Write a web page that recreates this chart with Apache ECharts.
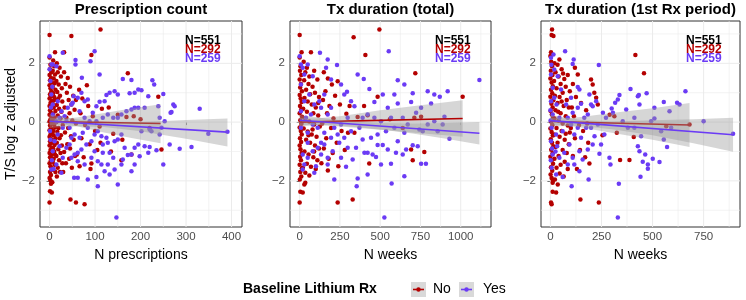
<!DOCTYPE html>
<html><head><meta charset="utf-8">
<script src="https://cdn.jsdelivr.net/npm/echarts@6/dist/echarts.min.js"></script>
<style>html,body{margin:0;padding:0;background:#fff}#c{width:746px;height:300px}</style>
</head><body><div id="c"></div>
<script>
// ---------- text ----------
const panelTitles = ['Prescription count', 'Tx duration (total)', 'Tx duration (1st Rx period)'];
const xTitles = ['N prescriptions', 'N weeks', 'N weeks'];
const yTitle = 'T/S log z adjusted';
const legendTitle = 'Baseline Lithium Rx';
const groupNames = ['No', 'Yes'];
const nLabels = ['N=551', 'N=292', 'N=259'];

// ---------- ticks ----------
const yMajor = [-2, 0, 2];
const yMinor = [-3, -1, 1, 3];
const p1XMajor = [0, 100, 200, 300, 400];
const p1XMinor = [50, 150, 250, 350];
const p2XMajor = [0, 250, 500, 750, 1000];
const p2XMinor = [125, 375, 625, 875, 1125];
const p3XMajor = [0, 250, 500, 750];
const p3XMinor = [125, 375, 625, 875];

// ---------- panel 1: N prescriptions ----------
const p1Red = [[0,2.96],[48,2.93],[112,3.15],[32,2.38],[12,2.38],[92,2.28],[172,1.66],[239,0.86],[169,0.17],[112,-0.7],[246,-0.93],[158,-1.3],[92,-1.41],[46,-2.63],[58,-2.74],[77,-2.8],[0,-2.74],[1,-2.35],[5,-2.4],[3,-2.1],[6,-2.05],
[0,2.2],[2,1.95],[1,1.8],[4,1.7],[0,1.6],[3,1.5],[1,1.42],[5,1.35],[0,1.25],[2,1.15],[4,1.05],[1,0.95],[3,0.88],[0,0.8],[5,0.72],[2,0.65],[0,0.55],[4,0.48],[1,0.4],[3,0.32],[0,0.25],[5,0.18],[2,0.1],[0,0.02],[4,-0.05],[1,-0.12],[3,-0.2],[0,-0.28],[5,-0.35],[2,-0.42],[0,-0.5],[4,-0.58],[1,-0.65],[3,-0.72],[0,-0.8],[5,-0.88],[2,-0.95],[0,-1.05],[4,-1.12],[1,-1.2],[3,-1.3],[0,-1.4],[2,-1.5],[5,-1.58],[1,-1.7],[3,-1.8],[0,-1.9],[2,-1.98],
[8,2.1],[10,1.9],[7,1.75],[12,1.62],[9,1.48],[11,1.32],[7,1.2],[13,1.1],[8,0.98],[10,0.85],[12,0.75],[7,0.62],[9,0.5],[13,0.38],[8,0.28],[11,0.15],[7,0.05],[10,-0.08],[12,-0.18],[8,-0.3],[9,-0.45],[13,-0.55],[7,-0.68],[11,-0.78],[8,-0.9],[10,-1.0],[12,-1.1],[9,-1.25],[7,-1.35],[11,-1.45],[8,-1.62],[13,-1.7],
[16,2.0],[22,1.85],[18,1.7],[25,1.55],[15,1.4],[20,1.28],[27,1.15],[17,1.02],[23,0.9],[19,0.8],[28,0.7],[16,0.58],[21,0.45],[26,0.35],[18,0.22],[24,0.12],[15,0.0],[29,-0.1],[20,-0.2],[17,-0.33],[25,-0.45],[22,-0.55],[16,-0.7],[27,-0.8],[19,-0.92],[24,-1.05],[15,-1.15],[21,-1.3],[28,-1.4],[18,-1.55],[23,-1.7],[16,-1.85],
[32,1.7],[40,1.5],[35,1.3],[45,1.2],[38,1.0],[52,0.9],[42,0.75],[48,0.6],[33,0.5],[55,0.42],[44,0.3],[37,0.15],[50,0.05],[58,-0.05],[41,-0.2],[34,-0.35],[47,-0.48],[53,-0.6],[39,-0.75],[45,-0.9],[32,-1.02],[56,-1.15],[43,-1.25],[36,-1.4],[49,-1.55],[60,-1.1],[58,0.75],[30,-1.7],
[65,1.1],[72,0.8],[85,0.55],[68,0.3],[95,0.2],[78,-0.1],[100,-0.3],[70,-0.55],[88,-0.75],[105,-0.95],[75,-1.2],[66,-1.5],[115,0.45],[82,1.25],[90,-1.6],[110,-0.15],
[130,0.5],[150,0.25],[185,0.2],[140,-0.4],[160,-0.6],[180,-1.1],[200,0.1],[220,-0.2],[135,-1.0]];
const p1Blue = [[0,2.24],[4,1.96],[7,1.96],[15,1.9],[29,2.36],[57,2.11],[57,1.96],[99,2.41],[90,2.07],[71,1.51],[110,1.62],[161,1.47],[180,1.43],[226,1.42],[230,1.28],[217,0.88],[195,1.11],[202,1.08],[187,1.0],[176,0.98],[150,0.94],[143,1.05],[132,1.0],[125,0.92],[121,0.71],[110,0.69],[103,0.54],[95,0.32],[84,0.77],[77,0.71],[70,1.0],[62,0.83],[53,0.88],[51,0.66],[48,0.6],[40,0.49],[33,0.2],[66,0.37],[77,0.15],[88,0.03],[103,0.03],[117,0.15],[128,0.26],[140,0.15],[150,0.15],[158,0.26],[169,0.37],[180,0.43],[195,0.49],[209,0.49],[239,0.54],[250,0.96],[272,0.6],[275,0.54],[268,0.34],[330,0.45],[349,-0.4],[391,-0.33],[312,-0.85],[286,-0.91],[264,-0.76],[250,-1.44],[246,-0.19],[242,-0.42],[224,-0.31],[209,-0.82],[220,-0.85],[195,-0.76],[187,-0.87],[180,-1.1],[172,-1.12],[158,-0.42],[150,-0.59],[143,-0.65],[128,-0.7],[125,-0.53],[114,-0.48],[106,-0.31],[99,-0.42],[92,-0.65],[81,-0.76],[70,-0.93],[62,-1.04],[55,-1.1],[48,-1.21],[62,-1.33],[77,-1.44],[84,-1.95],[103,-1.87],[106,-2.18],[62,-1.89],[54,-1.89],[147,-3.25],[150,-2.12],[132,-1.78],[143,-1.61],[180,-1.67],[187,-1.44],[198,-1.16],[161,-1.27],[132,-1.04],[117,-1.04],[26,-1.72],[4,-1.61],[15,-1.44],[7,-0.99],[18,-0.42],[29,-0.19],[15,0.03],[22,0.15],[7,0.26],[18,0.71],[7,0.6],[4,0.94],[26,0.37],[37,0.03],[44,-0.19],[48,-0.53],[37,-0.87],[29,-1.21],[22,-0.82],[11,-0.65],[220,-0.25],[242,0.15],[253,0.03],[266,0.32],[187,0.49],[117,-0.76],[128,-1.44],[140,-1.21],[158,-1.44],[106,-1.33],[92,-1.21],[73,-0.36],[66,-0.53],[55,-0.42],[44,-0.76],[84,-0.19],[99,-0.99],[114,-1.44],[121,-1.67],[165,-0.87],[202,-0.31],[217,-1.04],[235,-0.96],
[2,1.4],[3,0.5],[1,-0.3],[5,-1.3],[0,1.8],[2,-0.6],[6,1.2],[9,-1.6]];
const p1RedFit = [[0,0.02],[244,-0.05]];
const p1BlueFit = [[0,0.03],[391,-0.34]];
const p1RedBandX = [0, 30, 60, 120, 180, 244];
const p1RedBandLo = [-0.11, -0.08, -0.14, -0.35, -0.54, -0.72];
const p1RedBandHi = [0.15, 0.11, 0.16, 0.31, 0.46, 0.61];
const p1BlueBandX = [0, 60, 120, 200, 300, 391];
const p1BlueBandLo = [-0.2, -0.14, -0.17, -0.31, -0.57, -0.83];
const p1BlueBandHi = [0.26, 0.1, 0.01, 0.0, 0.07, 0.12];

// ---------- panel 2: N weeks (total) ----------
const p2Red = [[0,2.2],[5,1.9],[2,1.75],[10,1.6],[0,1.45],[8,1.3],[3,1.18],[14,1.05],[0,0.92],[6,0.8],[12,0.68],[2,0.55],[9,0.42],[0,0.3],[15,0.18],[4,0.06],[11,-0.06],[0,-0.18],[7,-0.3],[13,-0.42],[2,-0.55],[9,-0.68],[0,-0.8],[5,-0.92],[12,-1.05],[3,-1.18],[8,-1.3],[0,-1.45],[14,-1.58],[4,-1.7],[10,-1.85],[1,-1.95],
[25,2.05],[45,1.85],[70,2.38],[35,1.7],[60,1.55],[90,1.75],[28,1.42],[55,1.3],[80,1.2],[110,1.45],[40,1.1],[65,0.95],[95,1.0],[120,0.85],[30,0.82],[50,0.7],[75,0.6],[100,0.5],[22,0.45],[45,0.35],[85,0.3],[115,0.22],[35,0.12],[60,0.02],[90,-0.08],[125,-0.15],[25,-0.22],[50,-0.32],[75,-0.42],[105,-0.5],[40,-0.6],[65,-0.7],[95,-0.8],[120,-0.9],[30,-1.0],[55,-1.1],[85,-1.2],[110,-1.3],[45,-1.42],[70,-1.52],[100,-1.6],[35,-1.72],[60,-1.82],[90,-1.0],[20,-1.55],[80,-0.25],[115,0.65],[55,-0.45],
[150,1.7],[175,1.48],[200,1.28],[236,1.39],[160,1.05],[220,0.9],[145,0.75],[185,0.55],[250,0.6],[170,0.3],[210,0.12],[290,0.28],[140,-0.05],[195,-0.2],[260,-0.3],[300,-0.36],[340,-0.36],[165,-0.55],[230,-0.7],[150,-0.9],[205,-1.05],[180,-1.25],[135,-1.4],[240,-1.5],[175,-1.65],[310,0.55],[280,-0.95],
[0,2.96],[335,2.89],[495,3.15],[408,2.28],[718,1.66],[1012,0.86],[484,0.86],[712,0.15],[754,0.18],[422,0.23],[360,0.17],[432,-1.41],[702,-1.3],[692,-0.93],[774,-1.02],[236,-2.74],[329,-2.63],[0,-2.74],[4,-2.37],[19,-2.4],[29,-2.12],[35,-2.06],[12,2.38],[400,0.55],[560,0.1],[640,-0.2]];
const p2Blue = [[0,2.24],[126,2.36],[174,2.13],[232,1.94],[553,2.41],[1116,1.43],[360,1.62],[398,1.47],[609,1.42],[650,1.28],[919,1.05],[870,0.86],[795,1.05],[836,0.94],[702,0.98],[588,0.94],[516,0.94],[433,1.13],[294,1.03],[464,0.68],[547,0.49],[609,0.63],[692,0.68],[723,0.32],[754,0.49],[816,0.63],[930,-0.57],[857,-0.31],[764,-0.31],[743,-0.25],[650,-0.36],[588,-0.19],[536,-0.31],[484,-0.42],[702,-0.79],[733,-0.82],[784,-1.42],[754,-1.42],[640,-1.1],[567,-1.42],[526,-3.25],[571,-2.09],[650,-1.84],[360,-1.92],[354,-2.18],[288,-1.52],[215,-1.95],[402,-1.04],[422,-1.04],[453,-1.1],[422,-1.78],[484,-0.78],[516,-0.78],[443,-0.53],[391,-0.59],[350,-0.87],[298,-0.87],[246,-0.7],[205,-0.99],[153,-0.76],[133,-0.7],[112,-0.87],[174,-1.21],[101,-1.5],[91,-1.72],[19,-1.61],[19,-1.1],[50,-0.7],
[50,1.96],[19,1.85],[29,1.62],[153,0.94],[195,0.49],[257,1.28],[319,0.71],[340,0.54],[391,0.15],[422,0.26],[298,0.15],[257,-0.08],[215,-0.19],[174,0.26],[133,0.49],[91,0.6],[70,0.26],[39,0.15],[60,0.94],[81,1.56],[122,0.71],[164,1.85],[195,1.45],[277,0.94],[464,0.15],[505,0.03],[567,0.15],[640,0.15],[671,-0.08],[795,-0.08],[836,0.03],[888,-0.08],[899,0.18],[371,-0.19],[319,-0.31],[277,-0.53],[236,-0.42],[195,-0.53],[153,-0.36],[112,-0.19],[81,-0.08],[50,-0.36],[8,-0.19],[8,0.37],[8,1.28],[8,1.96],[29,0.71],[81,-0.99],[133,-1.1],[174,-1.44],[257,-1.21],[329,-1.27],[474,-1.19],[505,-1.44],[598,-1.04],[661,-0.93],[609,-0.65],[547,-0.93],[50,-1.21],[29,-1.44]];
const p2RedFit = [[0,0.0],[1012,0.12]];
const p2BlueFit = [[0,0.06],[1116,-0.38]];
const p2RedBandX = [0, 100, 250, 500, 750, 1012];
const p2RedBandLo = [-0.13, -0.1, -0.15, -0.26, -0.38, -0.5];
const p2RedBandHi = [0.14, 0.12, 0.2, 0.4, 0.57, 0.74];
const p2BlueBandX = [0, 175, 350, 525, 700, 900, 1116];
const p2BlueBandLo = [-0.12, -0.1, -0.17, -0.27, -0.39, -0.56, -0.76];
const p2BlueBandHi = [0.24, 0.11, 0.01, -0.03, -0.05, -0.03, 0.0];

// ---------- panel 3: N weeks (1st Rx period) ----------
const p3Red = [[0,2.25],[4,2.05],[8,1.9],[2,1.75],[10,1.6],[0,1.48],[6,1.35],[12,1.22],[3,1.1],[9,0.98],[0,0.86],[14,0.74],[5,0.62],[11,0.5],[1,0.38],[7,0.26],[13,0.14],[3,0.02],[10,-0.1],[0,-0.22],[6,-0.34],[12,-0.46],[2,-0.58],[8,-0.7],[14,-0.82],[4,-0.94],[11,-1.06],[0,-1.18],[7,-1.3],[13,-1.42],[3,-1.54],[9,-1.66],[1,-1.78],[6,-1.9],[12,-2.0],
[20,2.0],[35,1.95],[44,2.13],[55,1.8],[25,1.7],[68,1.47],[40,1.55],[85,1.6],[18,1.4],[50,1.3],[75,1.2],[30,1.15],[95,1.05],[60,1.0],[22,0.9],[45,0.85],[80,0.75],[35,0.65],[65,0.55],[90,0.5],[25,0.4],[50,0.3],[75,0.2],[20,0.12],[40,0.05],[60,-0.05],[85,-0.12],[30,-0.2],[55,-0.3],[95,-0.35],[18,-0.42],[45,-0.5],[70,-0.6],[35,-0.7],[90,-0.75],[25,-0.85],[60,-0.95],[80,-1.05],[40,-1.15],[20,-1.25],[70,-1.35],[50,-1.45],[30,-1.55],[85,-1.6],[45,-1.75],[65,-1.85],[22,-1.95],[100,-0.2],[55,0.7],[75,-0.4],[38,0.35],[62,1.65],
[110,1.3],[134,1.62],[199,1.45],[207,1.28],[224,0.83],[232,0.6],[125,0.85],[150,0.65],[175,0.4],[115,0.2],[140,-0.1],[160,-0.3],[120,-0.55],[185,-0.7],[145,-0.95],[110,-1.15],[170,-1.2],[191,-1.41],[130,-1.6],[105,0.5],[215,1.0],[180,-0.05],[120,1.85],
[8,3.15],[6,2.96],[15,2.93],[3,2.38],[416,2.28],[458,1.66],[681,-0.08],[567,-0.14],[408,-0.51],[325,-0.36],[313,0.2],[341,-1.29],[387,-1.29],[237,-2.74],[147,-2.63],[3,-2.74],[6,-2.8],[11,-2.37],[28,-2.4],[36,-2.12],[11,-2.06],[290,0.25],[255,-0.45]];
const p3Blue = [[72,2.41],[3,2.19],[114,2.13],[109,1.98],[237,1.94],[392,1.13],[433,0.92],[471,0.98],[555,0.68],[620,0.66],[661,1.05],[750,0.03],[894,-0.4],[509,0.12],[571,-0.85],[534,-1.36],[501,-1.25],[477,-1.44],[452,-1.35],[436,-0.99],[428,-0.82],[444,-0.48],[464,-1.1],[441,-1.86],[477,-1.59],[335,-2.1],[330,-3.25],[289,-1.21],[294,-1.44],[240,-1.08],[207,-0.76],[272,0.15],[300,0.46],[306,0.32],[330,0.77],[338,0.92],[317,0.66],[224,0.71],[199,0.6],[183,0.26],[150,0.62],[134,0.49],[109,0.32],[101,0.83],[142,1.11],[134,1.19],[191,0.94],[207,0.54],[257,0.32],[175,-0.19],[216,-0.48],[150,-0.53],[117,-0.42],[93,-0.76],[68,-1.04],[44,-1.21],[60,-1.87],[104,-2.18],[187,-1.95],[142,-1.67],[117,-1.44],[85,-1.44],[28,-1.78],[6,-1.55],[11,-1.1],[3,-0.65],[6,-0.19],[11,0.26],[3,0.71],[11,1.17],[3,1.62],[19,1.79],[36,1.56],[52,1.11],[77,0.6],[44,0.15],[60,-0.31],[33,-0.82],[19,0.83],[28,-0.42],[85,0.15],[101,-0.08],[134,-0.19],[166,0.15],[199,-0.19],[232,-0.08],[264,-0.42],[248,-0.76],[183,-0.93],[142,-0.99],[109,-1.21],[158,-1.27],[354,0.03],[379,-0.19],[411,-0.19],[371,0.43],[411,0.15],[493,0.03],[542,-0.31],[591,-0.19],[632,0.6],[583,0.37],[436,0.6],[428,0.88],[509,0.49],[555,-0.59],
[0,0.4],[2,-1.3],[5,1.95],[8,-0.9],[1,0.05],[15,2.3],[25,-1.0],[30,0.6]];
const p3RedFit = [[0,0.02],[681,-0.1]];
const p3BlueFit = [[0,0.05],[894,-0.43]];
const p3RedBandX = [0, 50, 150, 300, 500, 681];
const p3RedBandLo = [-0.12, -0.1, -0.18, -0.36, -0.6, -0.85];
const p3RedBandHi = [0.15, 0.12, 0.17, 0.31, 0.47, 0.65];
const p3BlueBandX = [0, 150, 300, 500, 700, 894];
const p3BlueBandLo = [-0.14, -0.13, -0.24, -0.45, -0.72, -1.01];
const p3BlueBandHi = [0.24, 0.07, 0.02, 0.06, 0.1, 0.15];

// ---------- style ----------
const RED = '#B40000', BLUE = '#6B3BF5';
const FONT = '"Liberation Sans", Arial, Helvetica, sans-serif';
const RIBBON = 'rgba(153,153,153,0.4)';
const GRID_TOP = 21, GRID_H = 206;
const fmt = v => String(v).replace('-', '\u2212');
const panels = [
  {left: 40, width: 202, xMin: -21, xMax: 423, maj: p1XMajor, min: p1XMinor, red: p1Red, blue: p1Blue,
   redFit: p1RedFit, blueFit: p1BlueFit, rb: [p1RedBandX, p1RedBandLo, p1RedBandHi], bb: [p1BlueBandX, p1BlueBandLo, p1BlueBandHi]},
  {left: 290, width: 201, xMin: -60, xMax: 1188, maj: p2XMajor, min: p2XMinor, red: p2Red, blue: p2Blue,
   redFit: p2RedFit, blueFit: p2BlueFit, rb: [p2RedBandX, p2RedBandLo, p2RedBandHi], bb: [p2BlueBandX, p2BlueBandLo, p2BlueBandHi]},
  {left: 541, width: 199, xMin: -46, xMax: 928, maj: p3XMajor, min: p3XMinor, red: p3Red, blue: p3Blue,
   redFit: p3RedFit, blueFit: p3BlueFit, rb: [p3RedBandX, p3RedBandLo, p3RedBandHi], bb: [p3BlueBandX, p3BlueBandLo, p3BlueBandHi]}
];

const grids = [], xAxes = [], yAxes = [], series = [], graphics = [];
panels.forEach((p, i) => {
  grids.push({left: p.left, top: GRID_TOP, width: p.width, height: GRID_H, show: true,
    borderColor: '#333333', borderWidth: 1, backgroundColor: 'transparent', containLabel: false});
  xAxes.push({type: 'value', gridIndex: i, min: p.xMin, max: p.xMax,
    name: xTitles[i], nameLocation: 'middle', nameGap: 17,
    nameTextStyle: {fontFamily: FONT, fontSize: 14, color: '#000'},
    axisLine: {show: false}, splitLine: {show: false},
    axisTick: {show: true, length: 3, customValues: p.maj, lineStyle: {color: '#333333'}},
    axisLabel: {customValues: p.maj, formatter: fmt, margin: 4, fontFamily: FONT, fontSize: 11.5, color: '#4D4D4D'}});
  yAxes.push({type: 'value', gridIndex: i, min: -3.57, max: 3.44,
    name: i === 0 ? yTitle : '', nameLocation: 'middle', nameGap: 21, nameRotate: 90,
    nameTextStyle: {fontFamily: FONT, fontSize: 14, color: '#000'},
    axisLine: {show: false}, splitLine: {show: false},
    axisTick: {show: true, length: 3, customValues: yMajor, lineStyle: {color: '#333333'}},
    axisLabel: {customValues: yMajor, formatter: fmt, margin: 5, fontFamily: FONT, fontSize: 11.5, color: '#4D4D4D'}});

  // grid lines
  const gl = [];
  p.maj.forEach(v => gl.push([v, 0]));
  p.min.forEach(v => gl.push([v, 1]));
  yMajor.forEach(v => gl.push([v, 2]));
  yMinor.forEach(v => gl.push([v, 3]));
  series.push({type: 'custom', xAxisIndex: i, yAxisIndex: i, z: 1, silent: true, data: gl,
    renderItem: (params, api) => {
      const v = api.value(0), k = api.value(1), cs = params.coordSys;
      const st = {stroke: '#EBEBEB', lineWidth: (k === 0 || k === 2) ? 1 : 0.6};
      if (k < 2) {
        const x = api.coord([v, 0])[0];
        return {type: 'line', shape: {x1: x, y1: cs.y, x2: x, y2: cs.y + cs.height}, style: st};
      }
      const y = api.coord([0, v])[1];
      return {type: 'line', shape: {x1: cs.x, y1: y, x2: cs.x + cs.width, y2: y}, style: st};
    }});

  series.push({type: 'scatter', name: groupNames[0], xAxisIndex: i, yAxisIndex: i, z: 2, data: p.red,
    symbolSize: 4.5, itemStyle: {color: RED, opacity: 1}, silent: true});
  series.push({type: 'scatter', name: groupNames[1], xAxisIndex: i, yAxisIndex: i, z: 2, data: p.blue,
    symbolSize: 4.5, itemStyle: {color: BLUE, opacity: 1}, silent: true});

  const ribbon = (band, z) => ({type: 'custom', xAxisIndex: i, yAxisIndex: i, z: z, silent: true,
    data: [[band[0][0], band[1][0]]],
    renderItem: (params, api) => {
      const pts = [];
      for (let k = 0; k < band[0].length; k++) pts.push(api.coord([band[0][k], band[2][k]]));
      for (let k = band[0].length - 1; k >= 0; k--) pts.push(api.coord([band[0][k], band[1][k]]));
      return {type: 'polygon', shape: {points: pts}, style: {fill: RIBBON}};
    }});
  series.push(ribbon(p.rb, 3));
  series.push({type: 'line', xAxisIndex: i, yAxisIndex: i, z: 4, data: p.redFit, symbol: 'none',
    lineStyle: {color: RED, width: 1.6}, silent: true});
  series.push(ribbon(p.bb, 5));
  series.push({type: 'line', xAxisIndex: i, yAxisIndex: i, z: 6, data: p.blueFit, symbol: 'none',
    lineStyle: {color: BLUE, width: 1.6}, silent: true});

  // panel title
  graphics.push({type: 'text', x: p.left + p.width / 2, y: 10, z: 10,
    style: {text: panelTitles[i], font: 'bold 15px ' + FONT, fill: '#000',
      align: 'center', verticalAlign: 'middle', textAlign: 'center', textVerticalAlign: 'middle'}});
  // N labels
  const nCols = ['#000000', RED, BLUE];
  nLabels.forEach((t, k) => {
    graphics.push({type: 'text', x: p.left + 145, y: 40.5 + k * 9, z: 10,
      style: {text: t, font: 'bold 12px ' + FONT, fill: nCols[k],
        align: 'left', verticalAlign: 'middle', textAlign: 'left', textVerticalAlign: 'middle'}});
  });
});

// legend
const LY = 289.5;
graphics.push({type: 'text', x: 243, y: LY, style: {text: legendTitle, font: 'bold 14px ' + FONT, fill: '#000',
  align: 'left', verticalAlign: 'middle', textAlign: 'left', textVerticalAlign: 'middle'}});
[[411, RED, 433], [459, BLUE, 483]].forEach((k, j) => {
  graphics.push({type: 'rect', shape: {x: k[0], y: LY - 7.5, width: 15, height: 15}, style: {fill: '#D9D9D9'}});
  graphics.push({type: 'line', shape: {x1: k[0] + 2, y1: LY, x2: k[0] + 13, y2: LY}, style: {stroke: k[1], lineWidth: 1.6}});
  graphics.push({type: 'circle', shape: {cx: k[0] + 7.5, cy: LY, r: 2.2}, style: {fill: k[1]}});
  graphics.push({type: 'text', x: k[2], y: LY, style: {text: groupNames[j], font: '14px ' + FONT, fill: '#000',
    align: 'left', verticalAlign: 'middle', textAlign: 'left', textVerticalAlign: 'middle'}});
});

const chart = echarts.init(document.getElementById('c'), null, {renderer: 'canvas'});
chart.setOption({animation: false, backgroundColor: '#fff',
  grid: grids, xAxis: xAxes, yAxis: yAxes, series: series, graphic: graphics});
</script></body></html>
